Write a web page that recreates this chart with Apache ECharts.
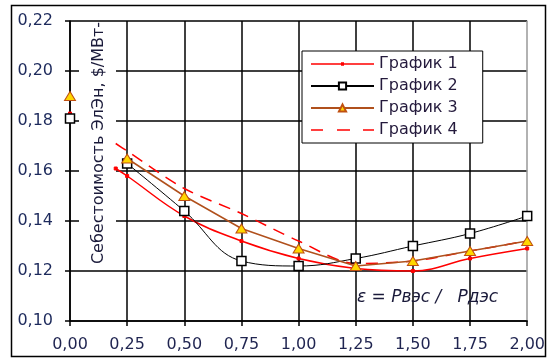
<!DOCTYPE html>
<html>
<head>
<meta charset="utf-8">
<script src="https://cdn.jsdelivr.net/npm/echarts@6/dist/echarts.min.js"></script>
<style>
  html, body { margin: 0; padding: 0; background: #fff; }
  #main { width: 548px; height: 360px; }
</style>
</head>
<body>
<div id="main"></div>
<script>
// значения
const xMain = [0, 0.25, 0.5, 0.75, 1.0, 1.25, 1.5, 1.75, 2.0];
const xRed = [0, 0.2, 0.25, 0.5, 0.75, 1.0, 1.25, 1.5, 1.75, 2.0];

const graf1 = [0.183, 0.161, 0.158, 0.142, 0.132, 0.125, 0.121, 0.120, 0.125, 0.129];
const graf2 = [0.181, 0.163, 0.144, 0.124, 0.122, 0.125, 0.130, 0.135, 0.142];
const graf3 = [0.190, 0.165, 0.150, 0.137, 0.129, 0.122, 0.124, 0.128, 0.132];
const graf4 = [null, 0.171, 0.168, 0.153, 0.143, 0.132, 0.123, 0.124, 0.128, 0.132];

const names = ['График 1', 'График 2', 'График 3', 'График 4'];
const yTitle = 'Себестоимость ЭлЭн, $/МВт-';
const epsText = 'ε = Pвэс /   Pдэс';

// точка при x=0 стоит отдельно, поэтому после неё разрыв линии
let toPairs = function (xs, ys) {
  let res = [];
  for (let i = 0; i < xs.length; i++) {
    if (ys[i] === null) continue;
    res.push([xs[i], ys[i]]);
    if (xs[i] === 0) res.push([0.1, '-']);
  }
  return res;
};

let comma = (v) => v.toFixed(2).replace('.', ',');

// значки легенды: линия с точкой и пунктир
const iconDot = 'path://M0,1h30v-1h3v1h30v1.5h-30v1h-3v-1h-30z';
const iconDash = 'path://M0,0h12v1.6h-12z M26,0h13v1.6h-13z M52,0h11v1.6h-11z';

const myEchart = echarts.init(document.getElementById('main'), null, { renderer: 'canvas' });

const option = {
  animation: false,
  backgroundColor: '#fff',
  grid: { left: 70, right: 15, top: 21, bottom: 39 },
  legend: {
    data: [
      { name: names[0], icon: iconDot },
      names[1],
      names[2],
      { name: names[3], icon: iconDash }
    ],
    orient: 'vertical',
    left: 302,
    top: 51,
    itemWidth: 63,
    itemHeight: 9,
    itemGap: 6,
    padding: [5, 25, 5, 8],
    backgroundColor: '#fff',
    borderColor: '#000',
    borderWidth: 1,
    borderRadius: 0,
    textStyle: { fontFamily: 'DejaVu Sans', fontSize: 16, color: '#241a3c' }
  },
  xAxis: {
    type: 'value',
    min: 0,
    max: 2,
    interval: 0.25,
    axisLine: { lineStyle: { color: '#000', width: 1.5 } },
    axisTick: { length: 5, lineStyle: { color: '#000', width: 1.5 } },
    axisLabel: {
      margin: 16,
      fontFamily: 'DejaVu Sans',
      fontSize: 16,
      color: '#1f2450',
      formatter: comma
    },
    splitLine: {
      lineStyle: {
        color: ['#000', '#000', '#000', '#000', '#000', '#000', '#000', '#000', '#999'],
        width: 1.5
      }
    }
  },
  yAxis: {
    type: 'value',
    min: 0.10,
    max: 0.22,
    interval: 0.02,
    axisLine: { show: true, lineStyle: { color: '#000', width: 1.5 } },
    axisTick: { show: true, length: 5, lineStyle: { color: '#000', width: 1.5 } },
    axisLabel: {
      margin: 17,
      fontFamily: 'DejaVu Sans',
      fontSize: 16,
      color: '#1d2a5c',
      formatter: comma
    },
    splitLine: { lineStyle: { color: '#000', width: 1.5 } }
  },
  graphic: [
    {
      type: 'rect',
      z: 1,
      shape: { x: 79, y: 22, width: 37, height: 241 },
      style: { fill: '#fff' }
    },
    {
      type: 'text',
      z: 1.5,
      x: 99,
      y: 143,
      rotation: Math.PI / 2,
      style: {
        text: yTitle,
        font: '16px "DejaVu Sans"',
        fill: '#1a1a3a',
        textAlign: 'center',
        textVerticalAlign: 'middle'
      }
    },
    {
      type: 'text',
      z: 1.5,
      x: 357,
      y: 298,
      style: {
        text: epsText,
        font: 'italic 17px "DejaVu Sans"',
        fill: '#1a1a3a',
        textVerticalAlign: 'middle'
      }
    },
    {
      type: 'rect',
      z: 10,
      silent: true,
      shape: { x: 11.5, y: 5.5, width: 534, height: 351 },
      style: { fill: 'none', stroke: '#000', lineWidth: 1.5 }
    }
  ],
  series: [
    {
      name: names[0],
      type: 'line',
      smooth: 0.4,
      data: toPairs(xRed, graf1),
      symbol: 'rect',
      symbolSize: 3,
      lineStyle: { color: '#ff0000', width: 1.5 },
      itemStyle: { color: '#ff0000', borderColor: '#ff0000' },
      z: 3
    },
    {
      name: names[1],
      type: 'line',
      smooth: 0.4,
      data: toPairs(xMain, graf2),
      symbol: 'rect',
      symbolSize: 9,
      lineStyle: { color: '#000', width: 1 },
      itemStyle: { color: '#fff', borderColor: '#000', borderWidth: 1.5 },
      z: 4
    },
    {
      name: names[2],
      type: 'line',
      data: toPairs(xMain, graf3),
      symbol: 'triangle',
      symbolSize: [11, 9],
      lineStyle: { color: '#b0501c', width: 1.5 },
      itemStyle: { color: '#ffd700', borderColor: '#c05010', borderWidth: 1 },
      z: 5
    },
    {
      name: names[3],
      type: 'line',
      smooth: 0.3,
      data: toPairs(xRed, graf4),
      showSymbol: false,
      symbol: 'none',
      lineStyle: { color: '#ff0000', width: 1.5, type: [12, 8] },
      itemStyle: { color: '#ff0000' },
      z: 3
    }
  ]
};

myEchart.setOption(option, true);
</script>
</body>
</html>
